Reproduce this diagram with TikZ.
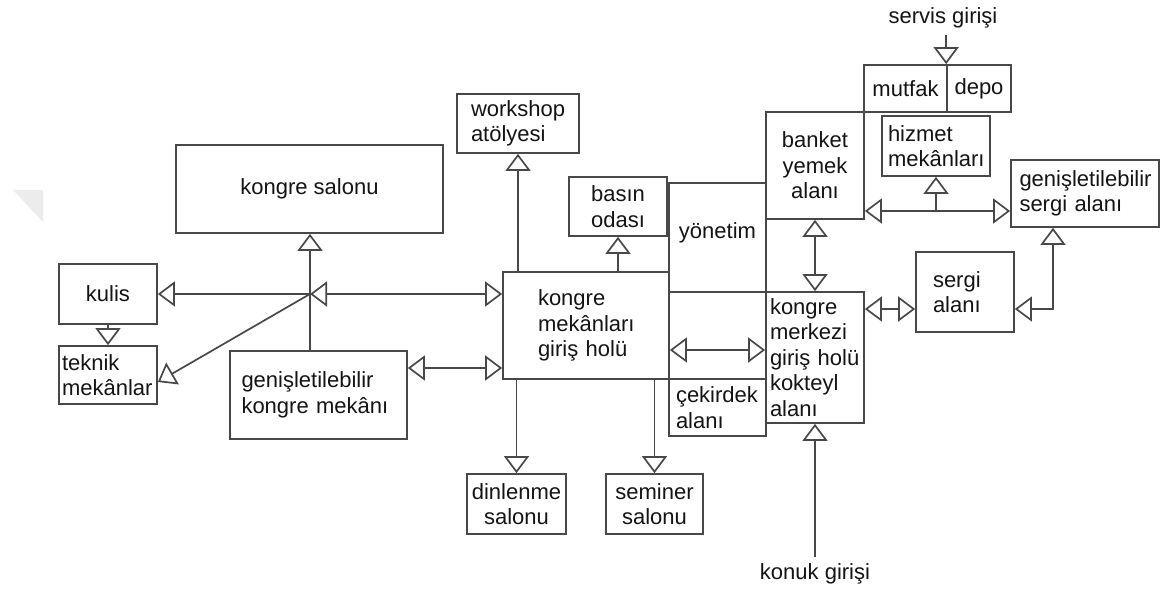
\documentclass[tikz,border=0pt]{standalone}
\usepackage{fontspec}
\setmainfont{Liberation Sans}
\usetikzlibrary{arrows.meta}

\definecolor{linegray}{RGB}{72,72,72}
\definecolor{textgray}{RGB}{20,20,20}
\definecolor{markgray}{RGB}{236,236,236}

\begin{document}
\begin{tikzpicture}[x=0.5pt, y=-0.5pt,
    room/.style={draw=linegray, rectangle, line width=0.85pt, inner sep=0pt, align=center, text=textgray, font=\fontsize{11}{12.8}\selectfont},
    lroom/.style={room, align=left},
    tag/.style={text=textgray, font=\fontsize{11}{12.8}\selectfont},
    link/.style={draw=linegray, line width=0.85pt},
    >={Triangle[open, width=12.5pt, length=8.5pt]}]

        % Define the page size and the faint mark
        \useasboundingbox (0,0) rectangle (1162,592);
        \fill[markgray] (13,190) -- (43,190) -- (43,222) -- cycle;

        % Define the rooms on the left
        \node[room, minimum width=133.5pt, minimum height=44pt] (salon) at (309.5,189) {kongre salonu};
        \node[room, minimum width=49pt, minimum height=30pt] (kulis) at (108,294) {kulis};
        \node[lroom, text width=46pt, inner xsep=1.5pt, minimum height=29pt] (teknik) at (108,375) {teknik\\mekânlar};
        \node[lroom, text width=77pt, inner xsep=5.75pt, minimum height=44pt] (genkongre) at (318.5,395) {genişletilebilir\\kongre mekânı};

        % Define the rooms in the middle
        \node[lroom, text width=47pt, inner xsep=7pt, minimum height=29.5pt] (atolye) at (518,123.5) {workshop\\atölyesi};
        \node[lroom, text width=48pt, inner xsep=17.5pt, minimum height=53.5pt] (holu) at (586,325.5) {kongre\\mekânları\\giriş holü};
        \node[room, minimum width=49pt, minimum height=29.5pt] (basin) at (618,206.5) {basın\\odası};
        \node[room, minimum width=48.5pt, minimum height=54.5pt, text depth=7pt] (yonetim) at (717.5,237.5) {yönetim};
        \node[lroom, text width=41.5pt, inner xsep=3.5pt, minimum height=28.5pt] (cekirdek) at (717.5,407.5) {çekirdek\\alanı};
        \node[room, minimum width=49.5pt, minimum height=30pt] (dinlenme) at (516.5,504) {dinlenme\\salonu};
        \node[room, minimum width=48.5pt, minimum height=30pt] (seminer) at (654.5,504) {seminer\\salonu};

        % Define the rooms on the right
        \node[lroom, text width=45pt, inner xsep=2pt, minimum height=65.5pt] (merkez) at (815,357.5) {kongre\\merkezi\\giriş holü\\kokteyl\\alanı};
        \node[room, minimum width=49pt, minimum height=53.5pt] (banket) at (815,165.5) {banket\\yemek\\alanı};
        \node[room, minimum width=41.5pt, minimum height=23.5pt] (mutfak) at (905.5,88.5) {mutfak};
        \node[room, minimum width=32pt, minimum height=23.5pt] (depo) at (979,88.5) {depo};
        \node[lroom, text width=48pt, inner xsep=3pt, minimum height=30pt] (hizmet) at (936,146) {hizmet\\mekânları};
        \node[lroom, text width=65.5pt, inner xsep=4.25pt, minimum height=33.5pt] (gensergi) at (1085,193.5) {genişletilebilir\\sergi alanı};
        \node[lroom, text width=32pt, inner xsep=8.5pt, minimum height=40pt] (sergi) at (965,292) {sergi\\alanı};

        % Define the entrances
        \node[tag] (servis) at (943,18) {servis girişi};
        \node[tag] (konuk) at (815,574) {konuk girişi};

        % Draw the links around kongre salonu
        \coordinate (jn) at (310,294);
        \draw[link, ->] (genkongre.north -| jn) -- (salon.south -| jn);
        \draw[link, ->] (jn) -- (kulis.east |- jn);
        \draw[link, <->] (jn) -- (jn -| holu.west);
        \draw[link, ->] (jn) -- ([yshift=-3.5pt]teknik.east);
        \draw[link, ->] (kulis) -- (teknik);
        \draw[link, <->] ([yshift=13.5pt]genkongre.east) coordinate (g1) -- (g1 -| holu.west);

        % Draw the links from the hall
        \draw[link, ->] (holu.north -| atolye) -- (atolye);
        \draw[link, ->] (holu.north -| basin) -- (basin);
        \draw[link, ->] (holu.south -| dinlenme) -- (dinlenme);
        \draw[link, ->] (holu.south -| seminer) -- (seminer);
        \draw[link, <->] ([yshift=-12.25pt]holu.east) coordinate (h1) -- (h1 -| merkez.west);

        % Draw the links on the right
        \draw[link, <->] (banket) -- (merkez);
        \draw[link, <->] ([yshift=-22.75pt]banket.east) coordinate (b1) -- (b1 -| gensergi.west);
        \draw[link, ->] (b1 -| hizmet) -- (hizmet);
        \draw[link, <->] ([yshift=-8.5pt]sergi.west) coordinate (s1) -- (s1 -| merkez.east);
        \draw[link, <->] ([yshift=-8.5pt]sergi.east) -| ([xshift=-16pt]gensergi.south);
        \draw[link, ->] (depo.north west |- servis.south) -- (depo.north west);
        \draw[link, ->] (konuk) -- (merkez);
    \end{tikzpicture}
\end{document}
